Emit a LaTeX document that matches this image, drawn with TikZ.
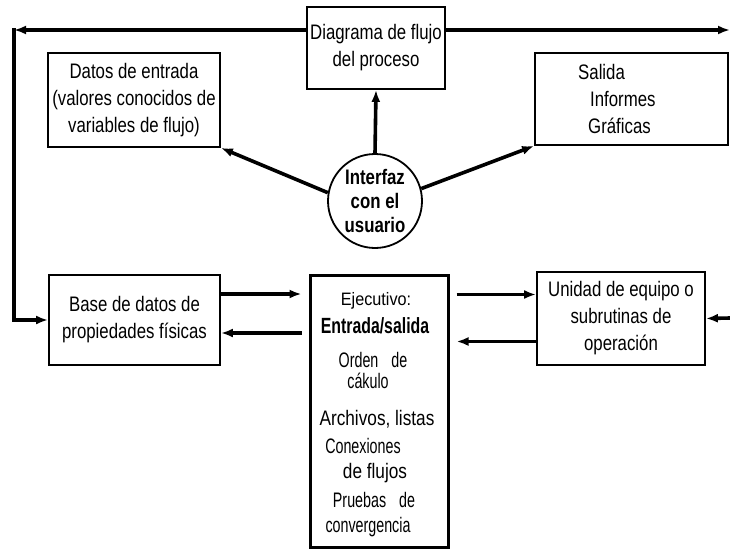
\documentclass[tikz,border=0pt]{standalone}
\usepackage{fontspec}
\setmainfont{Liberation Sans}
\newfontfamily\labelfont[FakeStretch=0.8]{Liberation Sans}
\newfontfamily\headfont[FakeStretch=0.72]{Liberation Sans}
\newfontfamily\regfont[FakeStretch=0.9]{Liberation Sans}
\newfontfamily\thinfont[FakeStretch=0.68]{Liberation Sans}
\newfontfamily\midfont[FakeStretch=0.82]{Liberation Sans}
\usetikzlibrary{arrows.meta}

\begin{document}
\begin{tikzpicture}[x=1pt,y=-1pt,
                    lbl/.style={font=\labelfont\fontsize{21}{27}\selectfont},
                    box/.style={draw,lbl,line width=1.8pt,align=center,inner sep=0pt},
                    link/.style={line width=3.6pt,-{Latex[length=12pt,width=9pt]}},
                    execreg/.style={anchor=base,inner sep=0pt,font=\regfont\fontsize{18}{18}\selectfont},
                    exechead/.style={anchor=base,inner sep=0pt,font=\headfont\bfseries\fontsize{22}{22}\selectfont},
                    execthin/.style={anchor=base,inner sep=0pt,font=\thinfont\fontsize{21}{21}\selectfont},
                    execmid/.style={anchor=base,inner sep=0pt,font=\midfont\fontsize{21}{21}\selectfont}]
  \useasboundingbox (0,0) rectangle (730,549);
  \node[box,minimum width=138pt,minimum height=82pt] (diag) at (376,48) {Diagrama de flujo\\del proceso};
  \node[box,minimum width=172pt,minimum height=94pt] (datos) at (134,100) {Datos de entrada\\(valores conocidos de\\variables de flujo)};
  \node[box,minimum width=193pt,minimum height=92pt] (salida) at (631.5,99) {};
  \node[lbl,anchor=west,align=left,inner sep=0pt] (salidatxt) at (578,99) {Salida\\\hspace*{12pt}Informes\\\hspace*{10pt}Gráficas};
  \node[draw,circle,line width=1.8pt,minimum size=94pt,inner sep=0pt,align=center,
        font=\labelfont\bfseries\fontsize{21}{24}\selectfont] (iface) at (375,201) {Interfaz\\con el\\usuario};
  \node[box,minimum width=171pt,minimum height=90pt] (base) at (134.5,320) {Base de datos de\\propiedades físicas};
  \node[box,minimum width=168pt,minimum height=93pt] (unidad) at (621,318.5) {Unidad de equipo o\\subrutinas de\\operación};
  \node[draw,line width=3pt,minimum width=138pt,minimum height=272pt] (exec) at (379,411) {};

  \node[execreg] (ej1) at (376,305) {Ejecutivo:};
  \node[exechead] (ej2) at (375,333) {Entrada/salida};
  \node[execthin] (ej3) at (373,367) {Orden\hspace{13pt}de};
  \node[execthin] (ej4) at (368,388) {cákulo};
  \node[execmid] (ej5) at (377,425) {Archivos, listas};
  \node[execthin] (ej6) at (363,453) {Conexiones};
  \node[execmid] (ej7) at (375,478) {de flujos};
  \node[execthin] (ej8) at (374,507) {Pruebas\hspace{13pt}de};
  \node[execthin] (ej9) at (368,532) {convergencia};

  \coordinate (tl) at (14,30);
  \coordinate (tr) at (730,30);
  \coordinate (rin) at (730,318);

  \draw[link] (iface.north) -- (diag.south);
  \draw[link] (iface.170) -- (datos.south east);
  \draw[link] (iface.15) -- (salida.south west);
  \draw[link] (diag.west |- tl) -- (tl);
  \draw[link,line cap=rect] (tl) |- (base.west);
  \draw[link] (diag.east |- tr) -- (tr);
  \draw[link] (rin) -- (unidad.east);
  \draw[link,shorten >=7pt] ([yshift=26pt]base.east) -- ([yshift=26pt]base.east -| exec.west);
  \draw[link,shorten <=7pt] ([yshift=-13pt]base.east -| exec.west) -- ([yshift=-13pt]base.east);
  \draw[link,shorten <=7pt] ([yshift=24pt]unidad.west -| exec.east) -- ([yshift=24pt]unidad.west);
  \draw[link,shorten >=7pt] ([yshift=-23pt]unidad.west) -- ([yshift=-23pt]unidad.west -| exec.east);
\end{tikzpicture}
\end{document}
